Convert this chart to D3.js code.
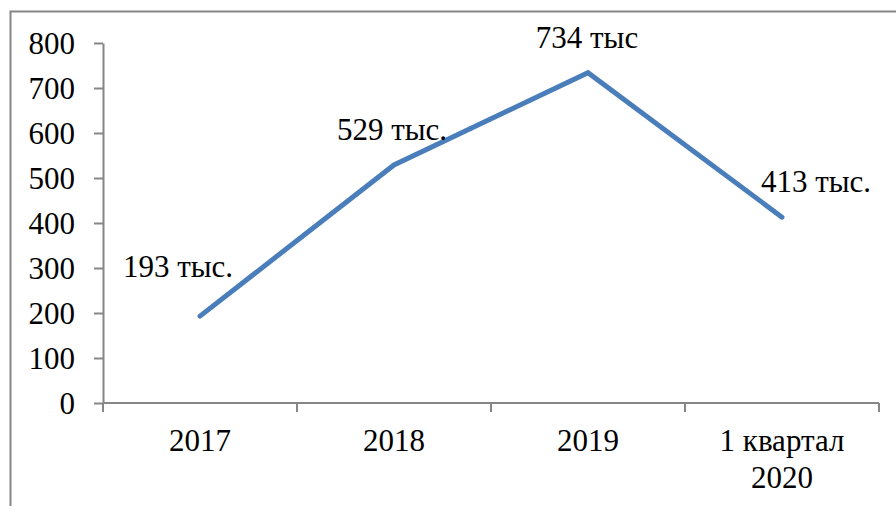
<!DOCTYPE html>
<html>
<head>
<meta charset="utf-8">
<script src="https://cdn.jsdelivr.net/npm/d3@7"></script>
<style>
  html, body { margin: 0; padding: 0; background: #fff; }
</style>
</head>
<body>
<div id="chart"></div>
<script>
// data
var categories = ["2017", "2018", "2019", "1 квартал\n2020"];
var values = [193, 529, 734, 413];
var pointLabels = ["193 тыс.", "529 тыс.", "734 тыс", "413 тыс."];
var yTicks = [0, 100, 200, 300, 400, 500, 600, 700, 800];

// label offsets from the point (layout only)
var labelOffsets = [[-22, -39], [-2, -25], [-1, -25], [34, -25]];

var serif = "'Liberation Serif', 'Times New Roman', serif";
var fs = 31;

var width = 896, height = 506;
var margin = {top: 43, right: 17, bottom: 103, left: 103};

var svg = d3.select("#chart").append("svg")
    .attr("width", width)
    .attr("height", height)
    .attr("font-family", serif)
    .attr("font-size", fs);

// outer frame (runs off the right and bottom edges)
svg.append("rect")
    .attr("x", 10.5).attr("y", 11.5)
    .attr("width", 900).attr("height", 520)
    .attr("fill", "none")
    .attr("stroke", "#868686")
    .attr("stroke-width", 2);

var x = d3.scaleBand()
    .domain(categories)
    .range([margin.left, width - margin.right]);

var y = d3.scaleLinear()
    .domain([0, 800])
    .range([height - margin.bottom, margin.top]);

var axisColor = "#868686";

// y axis
var yAxis = svg.append("g")
    .attr("transform", "translate(" + margin.left + ",0)")
    .call(d3.axisLeft(y).tickValues(yTicks).tickSize(9).tickPadding(19).tickSizeOuter(0));
yAxis.attr("font-family", serif).attr("font-size", fs);
yAxis.select(".domain").attr("stroke", axisColor).attr("stroke-width", 2);
yAxis.selectAll(".tick line").attr("stroke", axisColor).attr("stroke-width", 2);
yAxis.selectAll(".tick text")
    .attr("fill", "#000")
    .attr("dy", "0.34em");

// x axis line and boundary ticks
var xg = svg.append("g");
xg.append("line")
    .attr("x1", margin.left).attr("x2", width - margin.right)
    .attr("y1", y(0)).attr("y2", y(0))
    .attr("stroke", axisColor).attr("stroke-width", 2);
var bounds = categories.map(function(c) { return x(c); }).concat([x(categories[categories.length - 1]) + x.bandwidth()]);
xg.selectAll(".xtick")
    .data(bounds)
  .enter().append("line")
    .attr("class", "xtick")
    .attr("x1", function(d) { return d; }).attr("x2", function(d) { return d; })
    .attr("y1", y(0)).attr("y2", y(0) + 9)
    .attr("stroke", axisColor).attr("stroke-width", 2);

// x labels
var xl = svg.append("g").selectAll(".xlabel")
    .data(categories)
  .enter().append("text")
    .attr("class", "xlabel")
    .attr("text-anchor", "middle")
    .attr("x", function(d) { return x(d) + x.bandwidth() / 2; })
    .attr("y", y(0) + 48);
xl.each(function(d) {
  var lines = d.split("\n");
  var t = d3.select(this);
  lines.forEach(function(l, i) {
    t.append("tspan")
      .attr("x", x(d) + x.bandwidth() / 2)
      .attr("dy", i === 0 ? 0 : 37)
      .text(l);
  });
});

// line
var line = d3.line()
    .x(function(d, i) { return x(categories[i]) + x.bandwidth() / 2; })
    .y(function(d) { return y(d); });

svg.append("path")
    .datum(values)
    .attr("d", line)
    .attr("fill", "none")
    .attr("stroke", "#4a7ebb")
    .attr("stroke-width", 5)
    .attr("stroke-linecap", "round");

// point labels
svg.selectAll(".plabel")
    .data(values)
  .enter().append("text")
    .attr("class", "plabel")
    .attr("text-anchor", "middle")
    .attr("x", function(d, i) { return x(categories[i]) + x.bandwidth() / 2 + labelOffsets[i][0]; })
    .attr("y", function(d, i) { return y(d) + labelOffsets[i][1]; })
    .text(function(d, i) { return pointLabels[i]; });
</script>
</body>
</html>
